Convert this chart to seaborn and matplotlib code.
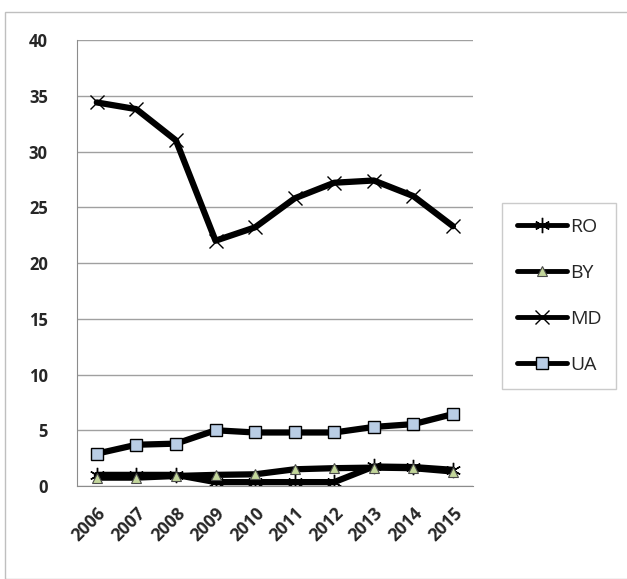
import matplotlib
matplotlib.use("Agg")
import numpy as np
import pandas as pd
import seaborn as sns
import matplotlib.pyplot as plt
from matplotlib.lines import Line2D
from matplotlib.patches import Rectangle

years = ["2006", "2007", "2008", "2009", "2010", "2011", "2012", "2013", "2014", "2015"]
ro = [1.0, 1.0, 1.0, 0.35, 0.35, 0.35, 0.35, 1.75, 1.7, 1.45]
by = [0.75, 0.75, 0.9, 1.0, 1.05, 1.5, 1.6, 1.65, 1.6, 1.3]
md = [34.4, 33.8, 31.0, 22.0, 23.2, 25.8, 27.2, 27.4, 26.0, 23.3]
ua = [2.9, 3.7, 3.8, 5.0, 4.8, 4.8, 4.8, 5.3, 5.55, 6.45]

sns.set_style("white")
plt.rcParams["font.family"] = ["Open Sans", "DejaVu Sans"]

fig = plt.figure(figsize=(6.27, 5.79), dpi=100)
ax = fig.add_axes([0.1228, 0.1606, 0.6312, 0.7703])
fig.patches.append(Rectangle((5 / 627, 0), 1, 1 - 12 / 579, transform=fig.transFigure,
                             fill=False, edgecolor="#bfbfbf", lw=1.0))

x = np.arange(len(years))
series = [
    ("RO", ro, dict(marker=(6, 2, 0), markersize=11, markeredgewidth=1.0, markeredgecolor="black")),
    ("BY", by, dict(marker="^", markersize=7, markerfacecolor="#c3d69b", markeredgecolor="#4a4a4a", markeredgewidth=0.8)),
    ("MD", md, dict(marker="x", markersize=10, markeredgewidth=1.0, markeredgecolor="black")),
    ("UA", ua, dict(marker="s", markersize=8, markerfacecolor="#b9cde5", markeredgecolor="black", markeredgewidth=1.0)),
]
handles = []
for name, vals, mk in series:
    sns.lineplot(x=x, y=vals, ax=ax, color="black", linewidth=4.5, **mk)
    handles.append(Line2D([0], [0], color="black", linewidth=3.5, label=name, **mk))

ax.set_ylim(0, 40)
ax.set_yticks(range(0, 41, 5))
ax.set_xlim(-0.5, len(years) - 0.5)
ax.set_xticks(x)
ax.set_xticklabels(years, rotation=45, ha="right", rotation_mode="anchor", fontweight="bold", fontsize=12.5)
ax.set_xticks(np.arange(-0.5, len(years), 1), minor=True)
ax.tick_params(axis="x", which="major", length=0, pad=13)
ax.tick_params(axis="x", which="minor", length=6, color="#8c8c8c", direction="out")
ax.tick_params(axis="y", length=7, color="#8c8c8c", direction="out", pad=14)
for lab in ax.get_yticklabels():
    lab.set_fontweight("bold")
    lab.set_fontsize(12)
ax.grid(axis="y", color="#a0a0a0", linewidth=1.0)
ax.set_axisbelow(True)
for side in ["top", "right"]:
    ax.spines[side].set_visible(False)
for side in ["left", "bottom"]:
    ax.spines[side].set_color("#8c8c8c")
ax.set_xlabel("")
ax.set_ylabel("")

leg = fig.legend(handles=handles, loc="upper left", bbox_to_anchor=(502 / 627, 1 - 203 / 579),
                 frameon=True, fancybox=False, edgecolor="#bfbfbf", fontsize=14,
                 handlelength=2.6, labelspacing=1.45, borderpad=0.75, borderaxespad=0,
                 handletextpad=0.15)
leg.get_frame().set_linewidth(1.0)

fig.savefig("out.png", dpi=100)
